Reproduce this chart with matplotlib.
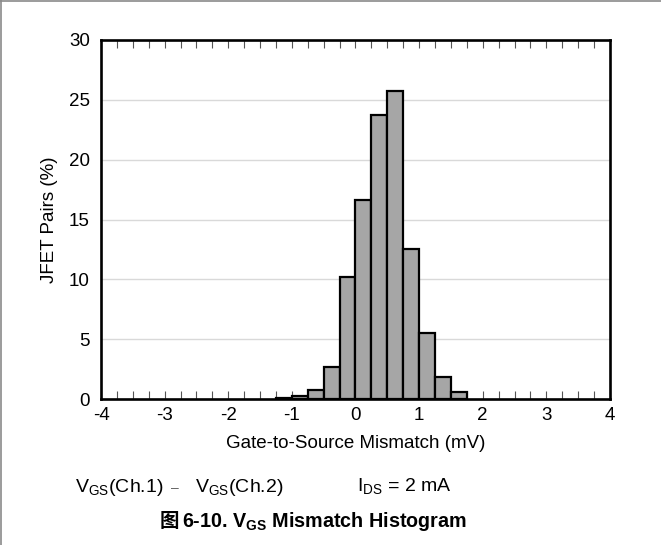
## VGS mismatch histogram of matched JFET pairs, redrawn with matplotlib.
# The bar heights.
import matplotlib
matplotlib.use('Agg')
import matplotlib.pyplot as plt
from matplotlib.lines import Line2D
from matplotlib.ticker import MultipleLocator

# left edge of each 0.25 mV bin, and the share of pairs in it (%)
binLeft = [-1.25, -1.0, -0.75, -0.5, -0.25, 0.0, 0.25, 0.5, 0.75, 1.0, 1.25, 1.5]
pairsPct = [0.1, 0.25, 0.75, 2.7, 10.2, 16.6, 23.7, 25.7, 12.5, 5.5, 1.8, 0.6]
binWidth = 0.25

xTicks = [-4, -3, -2, -1, 0, 1, 2, 3, 4]
yTicks = [0, 5, 10, 15, 20, 25, 30]

W, H = 661, 545
FONT = 'Liberation Sans'

def main():
    fig = plt.figure(figsize=(W/100, H/100), dpi=100)
    ax = fig.add_axes([101/W, 1-399/H, (610-101)/W, (399-40)/H])
    drawBars(ax)
    styleAxes(ax)
    addCaptions(fig)
    addPageEdge(fig)
    fig.savefig('out.png', dpi=100)

def drawBars(ax):
    ax.bar(binLeft, pairsPct, width=binWidth, align='edge',
           color='#a6a6a6', edgecolor='black', linewidth=1.6, zorder=2)

def styleAxes(ax):
    ax.set_xlim(xTicks[0], xTicks[-1])
    ax.set_ylim(yTicks[0], yTicks[-1])
    ax.set_xticks(xTicks)
    ax.set_xticklabels([str(t) for t in xTicks])
    ax.set_yticks(yTicks)
    ax.xaxis.set_minor_locator(MultipleLocator(0.25))
    ax.set_axisbelow(True)
    ax.grid(axis='y', color='#d9d9d9', linewidth=1.0)
    # inward ticks every 0.25 on bottom and top, none on y
    ax.tick_params(axis='x', which='both', direction='in', top=True,
                   length=6, width=0.8, color='#555555', pad=6)
    ax.tick_params(axis='y', length=0, pad=8)
    for lab in ax.get_xticklabels() + ax.get_yticklabels():
        lab.set_fontfamily(FONT)
        lab.set_fontsize(13.5)
    for sp in ax.spines.values():
        sp.set_linewidth(1.9)
        sp.set_color('black')
    ax.set_xlabel('Gate-to-Source Mismatch (mV)', fontsize=13.5,
                  family=FONT, labelpad=8)
    ax.set_ylabel('JFET Pairs (%)', fontsize=13.5, family=FONT, labelpad=8)

def addCaptions(fig):
    yLine = 1 - 492/H
    kw = dict(fontsize=14, family=FONT, va='baseline')
    fig.text(75/W, yLine, r'V$_{\mathregular{GS}}$(Ch.1)', **kw)
    fig.text(171/W, yLine, '–', fontsize=10, family=FONT, va='baseline',
             color='#666666')
    fig.text(195/W, yLine, r'V$_{\mathregular{GS}}$(Ch.2)', **kw)
    fig.text(357/W, yLine, r'I$_{\mathregular{DS}}$ = 2 mA', **kw)
    # caption: CJK glyph in Noto, the rest in the Arial look-alike
    yCap = 1 - 527/H
    fig.text(160/W, yCap, '图', fontsize=14, weight='bold',
             family=['Noto Sans CJK SC', 'DejaVu Sans'], va='baseline')
    fig.text(182/W, yCap, r'6-10. V$_{\mathregular{GS}}$ Mismatch Histogram',
             fontsize=14.2, weight='bold', family=FONT, va='baseline')

## thin grey page edge along the top and left of the screenshot
def addPageEdge(fig):
    fig.add_artist(Line2D([0, 1], [1 - 0.5/H, 1 - 0.5/H], color='#8a8a8a',
                          linewidth=1.2, transform=fig.transFigure))
    fig.add_artist(Line2D([0.5/W, 0.5/W], [0, 1], color='#8a8a8a',
                          linewidth=1.2, transform=fig.transFigure))

main()
